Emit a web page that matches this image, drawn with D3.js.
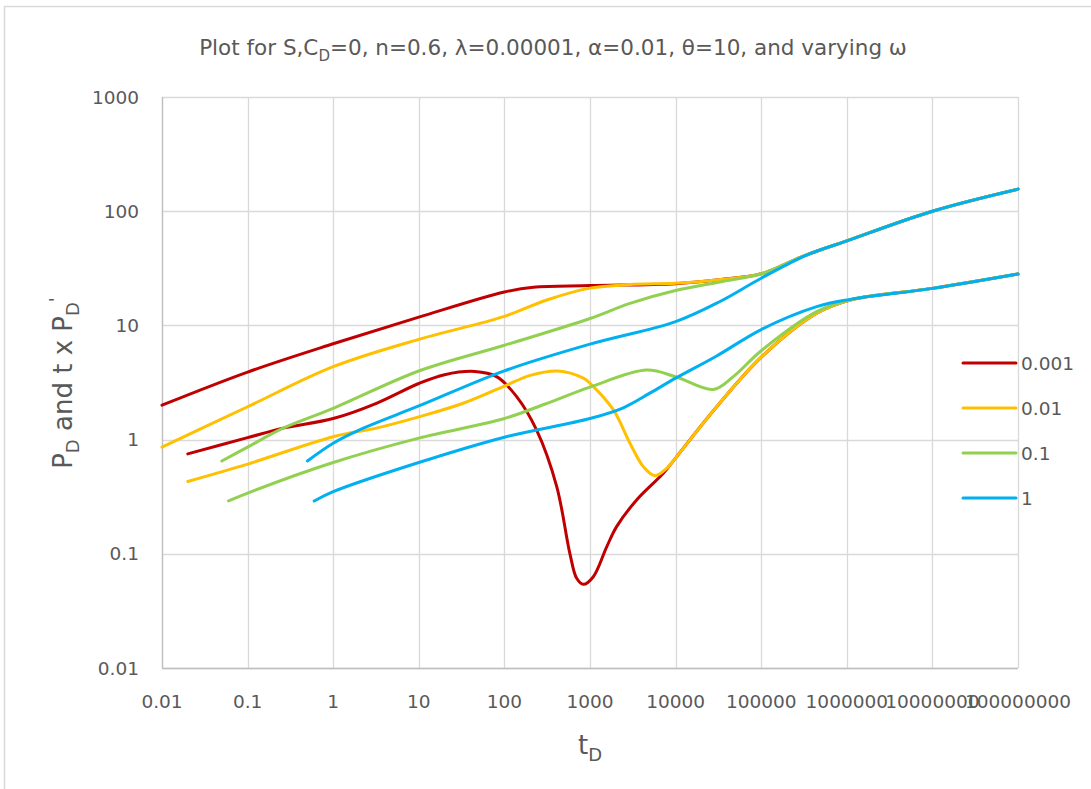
<!DOCTYPE html>
<html>
<head>
<meta charset="utf-8">
<script src="https://cdn.jsdelivr.net/npm/d3@7"></script>
<style>
  body { margin: 0; background: #fff; }
  text { font-family: "DejaVu Sans", sans-serif; fill: #595959; }
</style>
</head>
<body>
<div id="chart"></div>
<script>
// tick values
var xTicks = [0.01, 0.1, 1, 10, 100, 1000, 10000, 100000, 1000000, 10000000, 100000000];
var xTickLabels = ["0.01", "0.1", "1", "10", "100", "1000", "10000", "100000", "1000000", "10000000", "100000000"];
var yTicks = [0.01, 0.1, 1, 10, 100, 1000];
var yTickLabels = ["0.01", "0.1", "1", "10", "100", "1000"];

var omegas = ["0.001", "0.01", "0.1", "1"];
var colors = ["#C00000", "#FFC000", "#92D050", "#00B0F0"];

// w = 0.001
var pdT_0001 = [0.01, 0.1, 1, 10, 100, 218, 1000, 10000, 30000, 100000, 300000, 1000000, 10000000, 100000000];
var pdV_0001 = [2.0, 3.9, 6.9, 11.8, 19.6, 21.6, 22.3, 23.2, 25, 28.3, 40, 55, 100, 156];
var dT_0001 = [0.02, 0.1, 0.26, 1, 3.2, 10, 20, 45, 81, 139, 238, 408, 583, 699, 836, 1094, 1567, 2046, 3505, 7180, 10300, 30200, 101000, 445000, 1100000, 10000000, 100000000];
var dV_0001 = [0.75, 1.04, 1.26, 1.53, 2.08, 3.1, 3.7, 3.95, 3.56, 2.38, 1.21, 0.39, 0.10, 0.061, 0.054, 0.063, 0.115, 0.173, 0.296, 0.507, 0.71, 1.94, 5.3, 12.8, 16.7, 21.1, 28.2];

// w = 0.01
var pdT_001 = [0.01, 0.1, 1, 10, 100, 313, 1000, 2930, 10000, 30000, 100000, 300000, 1000000, 10000000, 100000000];
var pdV_001 = [0.86, 1.94, 4.35, 7.55, 12.0, 16.7, 21.2, 22.8, 23.4, 25, 28.3, 40, 55, 100, 156];
var dT_001 = [0.02, 0.1, 1, 3.2, 10, 33, 100, 200, 420, 836, 1000, 1876, 2930, 4200, 5740, 7870, 10300, 30200, 101000, 445000, 1100000, 10000000, 100000000];
var dV_001 = [0.43, 0.61, 1.06, 1.26, 1.58, 2.08, 2.94, 3.65, 3.99, 3.45, 3.11, 1.82, 0.93, 0.58, 0.483, 0.56, 0.71, 1.94, 5.3, 12.8, 16.7, 21.1, 28.2];

// w = 0.1
var pdT_01 = [0.05, 0.1, 0.26, 1, 10, 100, 1000, 2930, 10000, 33000, 100000, 300000, 1000000, 10000000, 100000000];
var pdV_01 = [0.65, 0.86, 1.26, 1.88, 3.99, 6.7, 11.5, 15.6, 20.2, 24, 28.3, 40, 55, 100, 156];
var dT_01 = [0.06, 0.1, 1, 10, 100, 300, 1000, 4590, 10000, 27500, 47200, 100000, 445000, 1100000, 10000000, 100000000];
var dV_01 = [0.29, 0.34, 0.63, 1.03, 1.53, 2.05, 2.88, 4.06, 3.55, 2.75, 3.56, 6.0, 13.2, 16.8, 21.1, 28.2];

// w = 1
var pdT_1 = [0.5, 1, 2.25, 10, 100, 1000, 10000, 33000, 100000, 340000, 1000000, 10000000, 100000000];
var pdV_1 = [0.65, 0.93, 1.26, 1.97, 4.0, 6.85, 10.8, 16.2, 25.9, 41.3, 55, 100, 156];
var dT_1 = [0.6, 1, 10, 100, 1000, 2450, 5000, 10000, 30200, 100000, 445000, 1100000, 10000000, 100000000];
var dV_1 = [0.29, 0.35, 0.63, 1.05, 1.53, 1.9, 2.55, 3.45, 5.4, 9.2, 14.6, 16.9, 21.1, 28.2];

var series = [
    {pd: [pdT_0001, pdV_0001], d: [dT_0001, dV_0001]},
    {pd: [pdT_001, pdV_001], d: [dT_001, dV_001]},
    {pd: [pdT_01, pdV_01], d: [dT_01, dV_01]},
    {pd: [pdT_1, pdV_1], d: [dT_1, dV_1]}
];

var W = 1091, H = 789;
var svg = d3.select("#chart").append("svg")
    .attr("width", W)
    .attr("height", H);

// chart border
svg.append("rect")
    .attr("x", 4.5).attr("y", 6.5)
    .attr("width", 1200).attr("height", 900)
    .attr("fill", "none")
    .attr("stroke", "#d9d9d9")
    .attr("stroke-width", 1.5);

var x = d3.scaleLog().domain([0.01, 1e8]).range([162, 1018]);
var y = d3.scaleLog().domain([0.01, 1000]).range([668, 97]);

// grid
var grid = svg.append("g");
grid.selectAll("line.gx")
    .data(xTicks)
    .enter().append("line")
    .attr("x1", function(d) { return Math.round(x(d)) + 0.5; })
    .attr("x2", function(d) { return Math.round(x(d)) + 0.5; })
    .attr("y1", y(1000)).attr("y2", y(0.01))
    .attr("stroke", "#d9d9d9").attr("stroke-width", 1.3);
grid.selectAll("line.gy")
    .data(yTicks)
    .enter().append("line")
    .attr("y1", function(d) { return Math.round(y(d)) + 0.5; })
    .attr("y2", function(d) { return Math.round(y(d)) + 0.5; })
    .attr("x1", x(0.01)).attr("x2", x(1e8))
    .attr("stroke", "#d9d9d9").attr("stroke-width", 1.3);
// axis lines a bit darker
svg.append("line")
    .attr("x1", x(0.01)).attr("x2", x(1e8))
    .attr("y1", Math.round(y(0.01)) + 0.5).attr("y2", Math.round(y(0.01)) + 0.5)
    .attr("stroke", "#bfbfbf").attr("stroke-width", 1.3);
svg.append("line")
    .attr("x1", Math.round(x(0.01)) + 0.5).attr("x2", Math.round(x(0.01)) + 0.5)
    .attr("y1", y(1000)).attr("y2", y(0.01))
    .attr("stroke", "#bfbfbf").attr("stroke-width", 1.3);

// tick labels
svg.selectAll("text.xt")
    .data(xTicks)
    .enter().append("text")
    .attr("x", function(d) { return x(d); })
    .attr("y", 708)
    .attr("text-anchor", "middle")
    .style("font-size", "18.5px")
    .text(function(d, i) { return xTickLabels[i]; });
svg.selectAll("text.yt")
    .data(yTicks)
    .enter().append("text")
    .attr("x", 139)
    .attr("y", function(d) { return y(d) + 6.5; })
    .attr("text-anchor", "end")
    .style("font-size", "18.5px")
    .text(function(d, i) { return yTickLabels[i]; });

// curves
var line = d3.line()
    .x(function(p) { return x(p[0]); })
    .y(function(p) { return y(p[1]); })
    .curve(d3.curveCatmullRom.alpha(0.5));

function pairs(arr) {
    return arr[0].map(function(t, i) { return [t, arr[1][i]]; });
}

series.forEach(function(s, i) {
    [s.pd, s.d].forEach(function(c) {
        svg.append("path")
            .attr("d", line(pairs(c)))
            .attr("fill", "none")
            .attr("stroke", colors[i])
            .attr("stroke-width", 3)
            .attr("stroke-linecap", "round")
            .attr("stroke-linejoin", "round");
    });
});

// legend
var leg = svg.append("g");
omegas.forEach(function(o, i) {
    var ly = 363 + i * 45;
    leg.append("line")
        .attr("x1", 963).attr("x2", 1016)
        .attr("y1", ly).attr("y2", ly)
        .attr("stroke", colors[i])
        .attr("stroke-width", 3)
        .attr("stroke-linecap", "round");
    leg.append("text")
        .attr("x", 1021).attr("y", ly + 6.5)
        .style("font-size", "18.5px")
        .text(o);
});

// title
var title = svg.append("text")
    .attr("x", 553).attr("y", 55)
    .attr("text-anchor", "middle")
    .style("font-size", "21.5px");
title.append("tspan").text("Plot for S,C");
title.append("tspan").attr("dy", 6).style("font-size", "15px").text("D");
title.append("tspan").attr("dy", -6).text("=0, n=0.6, λ=0.00001, α=0.01, θ=10, and varying ω");

// x axis title
var xt = svg.append("text")
    .attr("x", 590).attr("y", 754)
    .attr("text-anchor", "middle")
    .style("font-size", "26px");
xt.append("tspan").text("t");
xt.append("tspan").attr("dy", 7).style("font-size", "18px").text("D");

// y axis title
var yt = svg.append("text")
    .attr("transform", "translate(72,383) rotate(-90)")
    .attr("text-anchor", "middle")
    .style("font-size", "26px");
yt.append("tspan").text("P");
yt.append("tspan").attr("dy", 7).style("font-size", "18px").text("D");
yt.append("tspan").attr("dy", -7).text(" and t x P");
yt.append("tspan").attr("dy", 7).style("font-size", "18px").text("D");
yt.append("tspan").attr("dy", -17).style("font-size", "18px").text("'");
</script>
</body>
</html>
